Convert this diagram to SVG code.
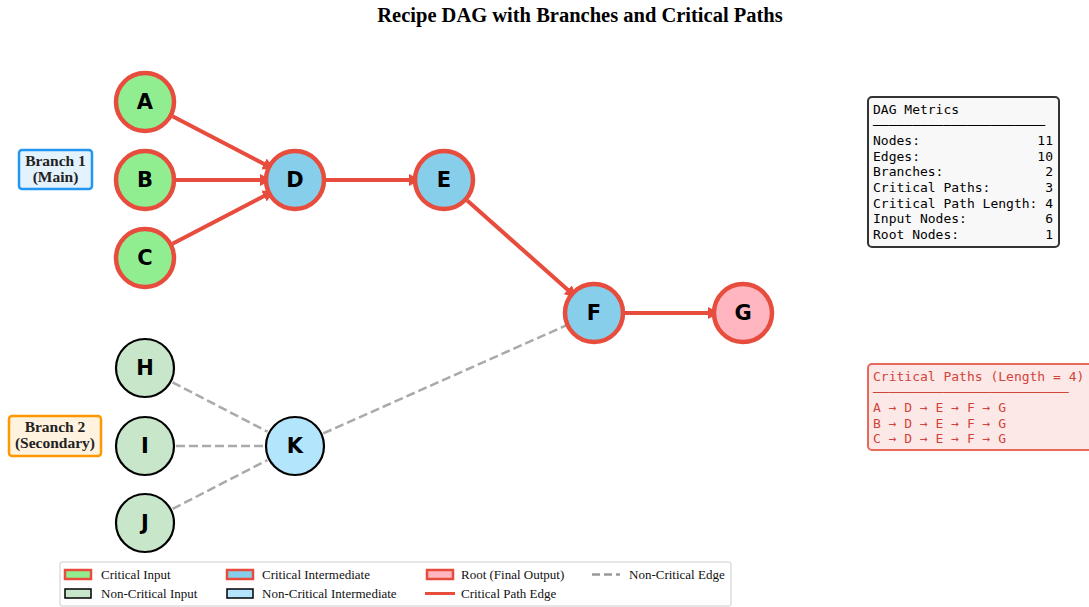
<svg xmlns="http://www.w3.org/2000/svg" width="1089" height="607" viewBox="0 0 1089 607">
  <style>
    .title { font-family: "Liberation Serif", serif; font-weight: bold; font-size: 20.5px; fill: #000; }
    .crit-edge { stroke: #e74c3c; stroke-width: 4; fill: none; }
    .nc-edge { stroke: #aaaaaa; stroke-width: 2.5; fill: none; stroke-dasharray: 9 4; }
    .node-label { font-family: "DejaVu Sans", sans-serif; font-weight: bold; font-size: 21px; text-anchor: middle; dominant-baseline: central; fill: #000; }
    .crit { stroke: #e74c3c; stroke-width: 4.5; }
    .noncrit { stroke: #000; stroke-width: 2.2; }
    .c-in { fill: #90ee90; }
    .n-in { fill: #c8e6c9; }
    .c-mid { fill: #87ceeb; }
    .n-mid { fill: #b3e5fc; }
    .root { fill: #ffb6c1; }
    .branch { font-family: "Liberation Serif", serif; font-weight: bold; font-size: 15.5px; text-anchor: middle; fill: #222; }
    .mono { font-family: "DejaVu Sans Mono", monospace; font-size: 13px; white-space: pre; }
    .legend { font-family: "Liberation Serif", serif; font-size: 13px; fill: #111; }
  </style>
  <defs>
    <!-- small head tucked under the target node's rim -->
    <marker id="arrow" markerUnits="userSpaceOnUse" markerWidth="12" markerHeight="14" viewBox="0 0 12 14" refX="4" refY="7" orient="auto">
      <path d="M0,1 L12,7 L0,13 Z" fill="#e74c3c"/>
    </marker>
  </defs>

  <rect width="1089" height="607" fill="#ffffff"/>

  <text class="title" x="580" y="22" text-anchor="middle">Recipe DAG with Branches and Critical Paths</text>

  <!-- connectors -->
  <g id="edges">
    <line class="nc-edge" x1="172.5" y1="382.3" x2="267.5" y2="431.7"/>
    <line class="nc-edge" x1="176" y1="446" x2="264" y2="446"/>
    <line class="nc-edge" x1="172.6" y1="508.9" x2="267.4" y2="460.1"/>
    <line class="nc-edge" x1="323.3" y1="433.4" x2="565.7" y2="325.6"/>
    <line class="crit-edge" x1="172.5" y1="116.3" x2="267.5" y2="165.7" marker-end="url(#arrow)"/>
    <line class="crit-edge" x1="176" y1="180" x2="264" y2="180" marker-end="url(#arrow)"/>
    <line class="crit-edge" x1="172.5" y1="243.7" x2="267.5" y2="194.3" marker-end="url(#arrow)"/>
    <line class="crit-edge" x1="326" y1="180" x2="413" y2="180" marker-end="url(#arrow)"/>
    <line class="crit-edge" x1="467.2" y1="200.6" x2="570.8" y2="292.4" marker-end="url(#arrow)"/>
    <line class="crit-edge" x1="625" y1="313" x2="712" y2="313" marker-end="url(#arrow)"/>
  </g>

  <!-- nodes -->
  <g id="node-A"><circle class="crit c-in" cx="145" cy="102" r="29"/><text class="node-label" x="145" y="102">A</text></g>
  <g id="node-B"><circle class="crit c-in" cx="145" cy="180" r="29"/><text class="node-label" x="145" y="180">B</text></g>
  <g id="node-C"><circle class="crit c-in" cx="145" cy="258" r="29"/><text class="node-label" x="145" y="258">C</text></g>
  <g id="node-D"><circle class="crit c-mid" cx="295" cy="180" r="29"/><text class="node-label" x="295" y="180">D</text></g>
  <g id="node-E"><circle class="crit c-mid" cx="444" cy="180" r="29"/><text class="node-label" x="444" y="180">E</text></g>
  <g id="node-F"><circle class="crit c-mid" cx="594" cy="313" r="29"/><text class="node-label" x="594" y="313">F</text></g>
  <g id="node-G"><circle class="crit root" cx="743" cy="313" r="29"/><text class="node-label" x="743" y="313">G</text></g>
  <g id="node-H"><circle class="noncrit n-in" cx="145" cy="368" r="29"/><text class="node-label" x="145" y="368">H</text></g>
  <g id="node-I"><circle class="noncrit n-in" cx="145" cy="446" r="29"/><text class="node-label" x="145" y="446">I</text></g>
  <g id="node-J"><circle class="noncrit n-in" cx="145" cy="523" r="29"/><text class="node-label" x="145" y="523">J</text></g>
  <g id="node-K"><circle class="noncrit n-mid" cx="295" cy="446" r="29"/><text class="node-label" x="295" y="446">K</text></g>

  <!-- branch labels -->
  <g id="branch-1">
    <rect x="19" y="150" width="73" height="39" rx="3" fill="#e3f2fd" stroke="#2196f3" stroke-width="2.5"/>
    <text class="branch" x="55.5" y="166">Branch 1</text>
    <text class="branch" x="55.5" y="182">(Main)</text>
  </g>
  <g id="branch-2">
    <rect x="9" y="416" width="92" height="40" rx="3" fill="#fff3e0" stroke="#ff9800" stroke-width="2.5"/>
    <text class="branch" x="55" y="432">Branch 2</text>
    <text class="branch" x="55" y="448">(Secondary)</text>
  </g>

  <!-- metrics panel -->
  <g id="metrics">
    <rect x="868" y="97" width="191" height="150" rx="4" fill="#f8f8f8" stroke="#333333" stroke-width="2"/>
    <text class="mono" x="873" y="114" fill="#000">DAG Metrics</text>
    <text class="mono" x="873" y="129.6" fill="#000">──────────────────────</text>
    <text class="mono" x="873" y="145.2" fill="#000">Nodes:               11</text>
    <text class="mono" x="873" y="160.8" fill="#000">Edges:               10</text>
    <text class="mono" x="873" y="176.4" fill="#000">Branches:             2</text>
    <text class="mono" x="873" y="192" fill="#000">Critical Paths:       3</text>
    <text class="mono" x="873" y="207.6" fill="#000">Critical Path Length: 4</text>
    <text class="mono" x="873" y="223.2" fill="#000">Input Nodes:          6</text>
    <text class="mono" x="873" y="238.8" fill="#000">Root Nodes:           1</text>
  </g>

  <!-- critical paths panel -->
  <g id="critical-paths">
    <rect x="868" y="364" width="240" height="86" rx="4" fill="#fde8e8" stroke="#e8685c" stroke-width="2"/>
    <text class="mono" x="873" y="381" fill="#d0453a">Critical Paths (Length = 4)</text>
    <text class="mono" x="873" y="396.6" fill="#d0453a">─────────────────────────</text>
    <text class="mono" x="873" y="412.2" fill="#d0453a">A → D → E → F → G</text>
    <text class="mono" x="873" y="427.8" fill="#d0453a">B → D → E → F → G</text>
    <text class="mono" x="873" y="443.4" fill="#d0453a">C → D → E → F → G</text>
  </g>

  <!-- legend -->
  <g id="legend">
    <rect x="60" y="562" width="671" height="44" rx="2" fill="#ffffff" stroke="#cccccc" stroke-width="1"/>
    <rect x="65" y="570" width="26" height="9" fill="#90ee90" stroke="#e74c3c" stroke-width="2.5"/>
    <text class="legend" x="101" y="579">Critical Input</text>
    <rect x="65" y="589" width="26" height="9" fill="#c8e6c9" stroke="#000" stroke-width="1.5"/>
    <text class="legend" x="101" y="598">Non-Critical Input</text>
    <rect x="227" y="570" width="26" height="9" fill="#87ceeb" stroke="#e74c3c" stroke-width="2.5"/>
    <text class="legend" x="262" y="579">Critical Intermediate</text>
    <rect x="227" y="589" width="26" height="9" fill="#b3e5fc" stroke="#000" stroke-width="1.5"/>
    <text class="legend" x="262" y="598">Non-Critical Intermediate</text>
    <rect x="427" y="570" width="26" height="9" fill="#ffb6c1" stroke="#e74c3c" stroke-width="2.5"/>
    <text class="legend" x="461" y="579">Root (Final Output)</text>
    <line x1="425" y1="593.5" x2="455" y2="593.5" stroke="#e74c3c" stroke-width="3"/>
    <text class="legend" x="461" y="598">Critical Path Edge</text>
    <line x1="592" y1="574.5" x2="620" y2="574.5" stroke="#999999" stroke-width="2.5" stroke-dasharray="8 4"/>
    <text class="legend" x="629" y="579">Non-Critical Edge</text>
  </g>
</svg>
